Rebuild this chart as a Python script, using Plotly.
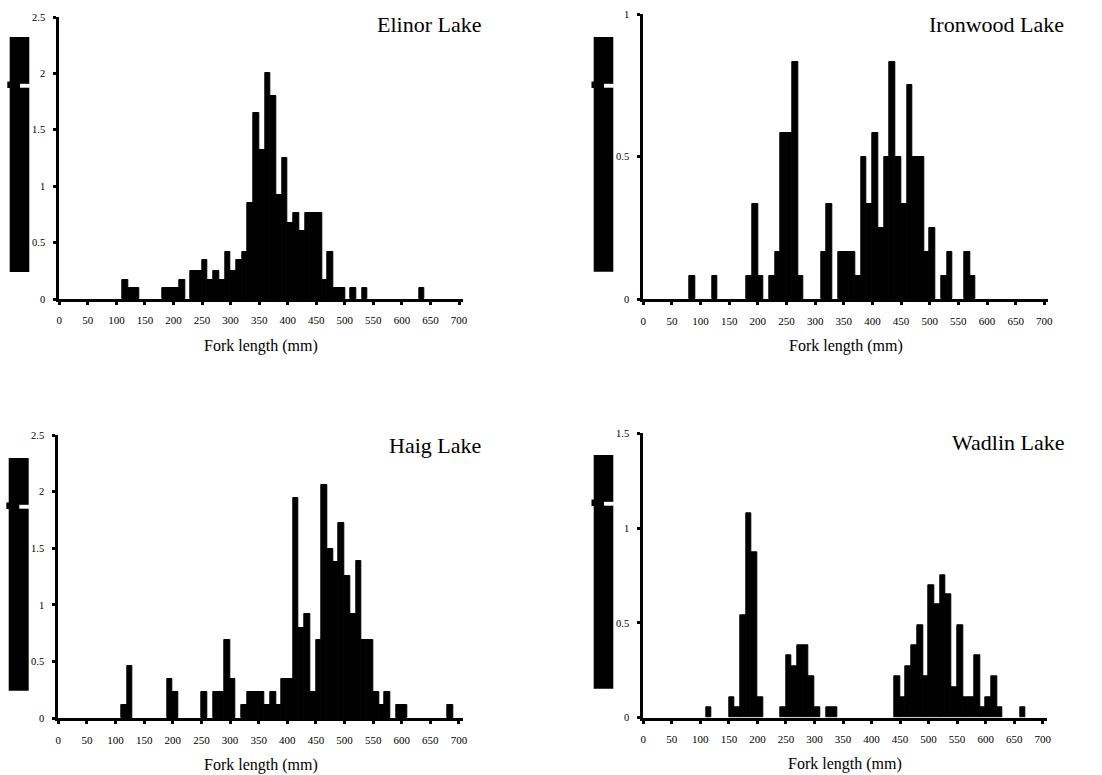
import plotly.graph_objects as go

# ---------------- data (bin lower edge in mm, % frequency) ----------------
elinor_bins = [110, 120, 130, 180, 190, 200, 210, 230, 240, 250, 260, 270, 280, 290, 300,
               310, 320, 330, 340, 350, 360, 370, 380, 390, 400, 410, 420, 430, 440, 450,
               460, 470, 480, 490, 510, 530, 630]
elinor_pct = [0.17, 0.1, 0.1, 0.1, 0.1, 0.1, 0.17, 0.25, 0.25, 0.35, 0.17, 0.25, 0.17, 0.42, 0.25,
              0.35, 0.42, 0.85, 1.65, 1.32, 2.0, 1.8, 0.92, 1.25, 0.67, 0.76, 0.6, 0.76, 0.76, 0.76,
              0.17, 0.42, 0.1, 0.1, 0.1, 0.1, 0.1]

ironwood_bins = [80, 120, 180, 190, 200, 220, 230, 240, 250, 260, 270, 310, 320, 340, 350,
                 360, 370, 380, 390, 400, 410, 420, 430, 440, 450, 460, 470, 480, 490, 500,
                 520, 530, 560, 570]
ironwood_pct = [0.083, 0.083, 0.083, 0.333, 0.083, 0.083, 0.167, 0.583, 0.583, 0.833, 0.083, 0.167,
                0.333, 0.167, 0.167, 0.167, 0.083, 0.5, 0.333, 0.583, 0.25, 0.5, 0.833, 0.5, 0.333,
                0.75, 0.5, 0.5, 0.167, 0.25, 0.083, 0.167, 0.167, 0.083]

haig_bins = [110, 120, 190, 200, 250, 270, 280, 290, 300, 320, 330, 340, 350, 360, 370, 380,
             390, 400, 410, 420, 430, 440, 450, 460, 470, 480, 490, 500, 510, 520, 530, 540,
             550, 560, 570, 590, 600, 680]
haig_pct = [0.12, 0.46, 0.35, 0.23, 0.23, 0.23, 0.23, 0.69, 0.35, 0.12, 0.23, 0.23, 0.23, 0.12,
            0.23, 0.12, 0.35, 0.35, 1.94, 0.8, 0.92, 0.23, 0.69, 2.06, 1.49, 1.38, 1.72, 1.26,
            0.92, 1.39, 0.69, 0.69, 0.23, 0.12, 0.23, 0.12, 0.12, 0.12]

wadlin_bins = [110, 150, 160, 170, 180, 190, 200, 240, 250, 260, 270, 280, 290, 300, 320, 330,
               440, 450, 460, 470, 480, 490, 500, 510, 520, 530, 540, 550, 560, 570, 580, 590,
               600, 610, 620, 660]
wadlin_pct = [0.055, 0.11, 0.055, 0.54, 1.08, 0.87, 0.11, 0.055, 0.33, 0.27, 0.38, 0.38, 0.22,
              0.055, 0.055, 0.055, 0.22, 0.11, 0.27, 0.38, 0.49, 0.22, 0.7, 0.6, 0.75, 0.65,
              0.16, 0.49, 0.11, 0.11, 0.33, 0.055, 0.11, 0.22, 0.055, 0.055]

lake_names = ["Elinor Lake", "Ironwood Lake", "Haig Lake", "Wadlin Lake"]
y_tops = [2.5, 1.0, 2.5, 1.5]
y_ticks = [[0, 0.5, 1, 1.5, 2, 2.5], [0, 0.5, 1], [0, 0.5, 1, 1.5, 2, 2.5], [0, 0.5, 1, 1.5]]
x_ticks = [0, 50, 100, 150, 200, 250, 300, 350, 400, 450, 500, 550, 600, 650, 700]
bin_width = 10
x_title = "Fork length (mm)"

series = [(elinor_bins, elinor_pct), (ironwood_bins, ironwood_pct),
          (haig_bins, haig_pct), (wadlin_bins, wadlin_pct)]

# ---------------- layout geometry (pixels) ----------------
W, H = 1102, 775
def X(px): return px / W
def Y(py): return 1 - py / H

# (x_left, x_right, y_top_px, y_bottom_px)
panels = [(59.3, 463.0, 17.0, 299.0),
          (643.3, 1048.3, 14.0, 299.3),
          (58.3, 463.0, 435.0, 718.3),
          (643.3, 1046.7, 433.3, 717.7)]
title_pos = [(483, 25), (1066, 25), (483, 445), (1066, 442)]
xtitle_y = [346, 346, 765, 764]
blocks = [(9.7, 29.3, 37, 272, 7.3, 20.0),
          (593.7, 613.3, 37, 271.7, 591.5, 604.0),
          (8.7, 28.7, 458, 690.7, 6.3, 19.3),
          (593.7, 613.3, 455, 688.7, 591.5, 604.0)]

FONT = "Liberation Serif, Times New Roman, serif"

fig = go.Figure()
layout = dict(
    template="none",
    width=W, height=H, margin=dict(l=0, r=0, t=0, b=0, pad=0, autoexpand=False),
    paper_bgcolor="white", plot_bgcolor="white", showlegend=False,
    font=dict(family=FONT, color="black"),
    bargap=0,
)
annotations = []
shapes = []

for i, ((bins, pct), (xl, xr, yt, yb)) in enumerate(zip(series, panels)):
    n = "" if i == 0 else str(i + 1)
    fig.add_trace(go.Bar(
        x=[b + bin_width / 2 for b in bins], y=pct, width=bin_width,
        marker=dict(color="black", line=dict(color="black", width=1)),
        xaxis="x" + n, yaxis="y" + n, hoverinfo="x+y",
    ))
    layout["xaxis" + n] = dict(
        domain=[X(xl), X(xr)], range=[0, 707], anchor="y" + n, automargin=False,
        tickmode="array", tickvals=x_ticks, ticktext=[str(t) for t in x_ticks],
        showline=True, linecolor="black", linewidth=3,
        ticks="outside", ticklen=3, tickwidth=2.5, tickcolor="black",
        showgrid=False, zeroline=False, ticklabelstandoff=6,
        tickfont=dict(family=FONT, size=11, color="black"),
    )
    layout["yaxis" + n] = dict(
        domain=[Y(yb), Y(yt)], range=[0, y_tops[i]], anchor="x" + n, automargin=False,
        tickmode="array", tickvals=y_ticks[i], ticktext=[("%g" % t) for t in y_ticks[i]],
        showline=True, linecolor="black", linewidth=3,
        ticks="outside", ticklen=3, tickwidth=2.5, tickcolor="black",
        showgrid=False, zeroline=False, ticklabelstandoff=6,
        tickfont=dict(family=FONT, size=10.5, color="black"),
    )
    tx, ty = title_pos[i]
    annotations.append(dict(text=lake_names[i], x=X(tx), y=Y(ty), xref="paper", yref="paper",
                            xanchor="right", yanchor="middle", showarrow=False,
                            font=dict(family=FONT, size=22, color="black")))
    annotations.append(dict(text=x_title, x=X((xl + xr) / 2), y=Y(xtitle_y[i]),
                            xref="paper", yref="paper", xanchor="center", yanchor="middle",
                            showarrow=False, font=dict(family=FONT, size=16, color="black")))
    bx0, bx1, by0, by1, nx0, nx1 = blocks[i]
    ny = by0 + 44.5
    shapes.append(dict(type="rect", xref="paper", yref="paper", x0=X(bx0), x1=X(bx1),
                       y0=Y(by1), y1=Y(by0), fillcolor="black", line=dict(width=0)))
    shapes.append(dict(type="rect", xref="paper", yref="paper", x0=X(nx0), x1=X(nx1),
                       y0=Y(ny + 6.5), y1=Y(ny), fillcolor="black", line=dict(width=0)))
    shapes.append(dict(type="rect", xref="paper", yref="paper", x0=X(nx1), x1=X(bx1 + 0.5),
                       y0=Y(ny + 6.2), y1=Y(ny + 2.3), fillcolor="white", line=dict(width=0)))

layout["annotations"] = annotations
layout["shapes"] = shapes
fig.update_layout(**layout)
fig.write_html("out.html", config={"displayModeBar": False},
               post_script="document.body.style.margin='0px';document.body.style.overflow='hidden';")
